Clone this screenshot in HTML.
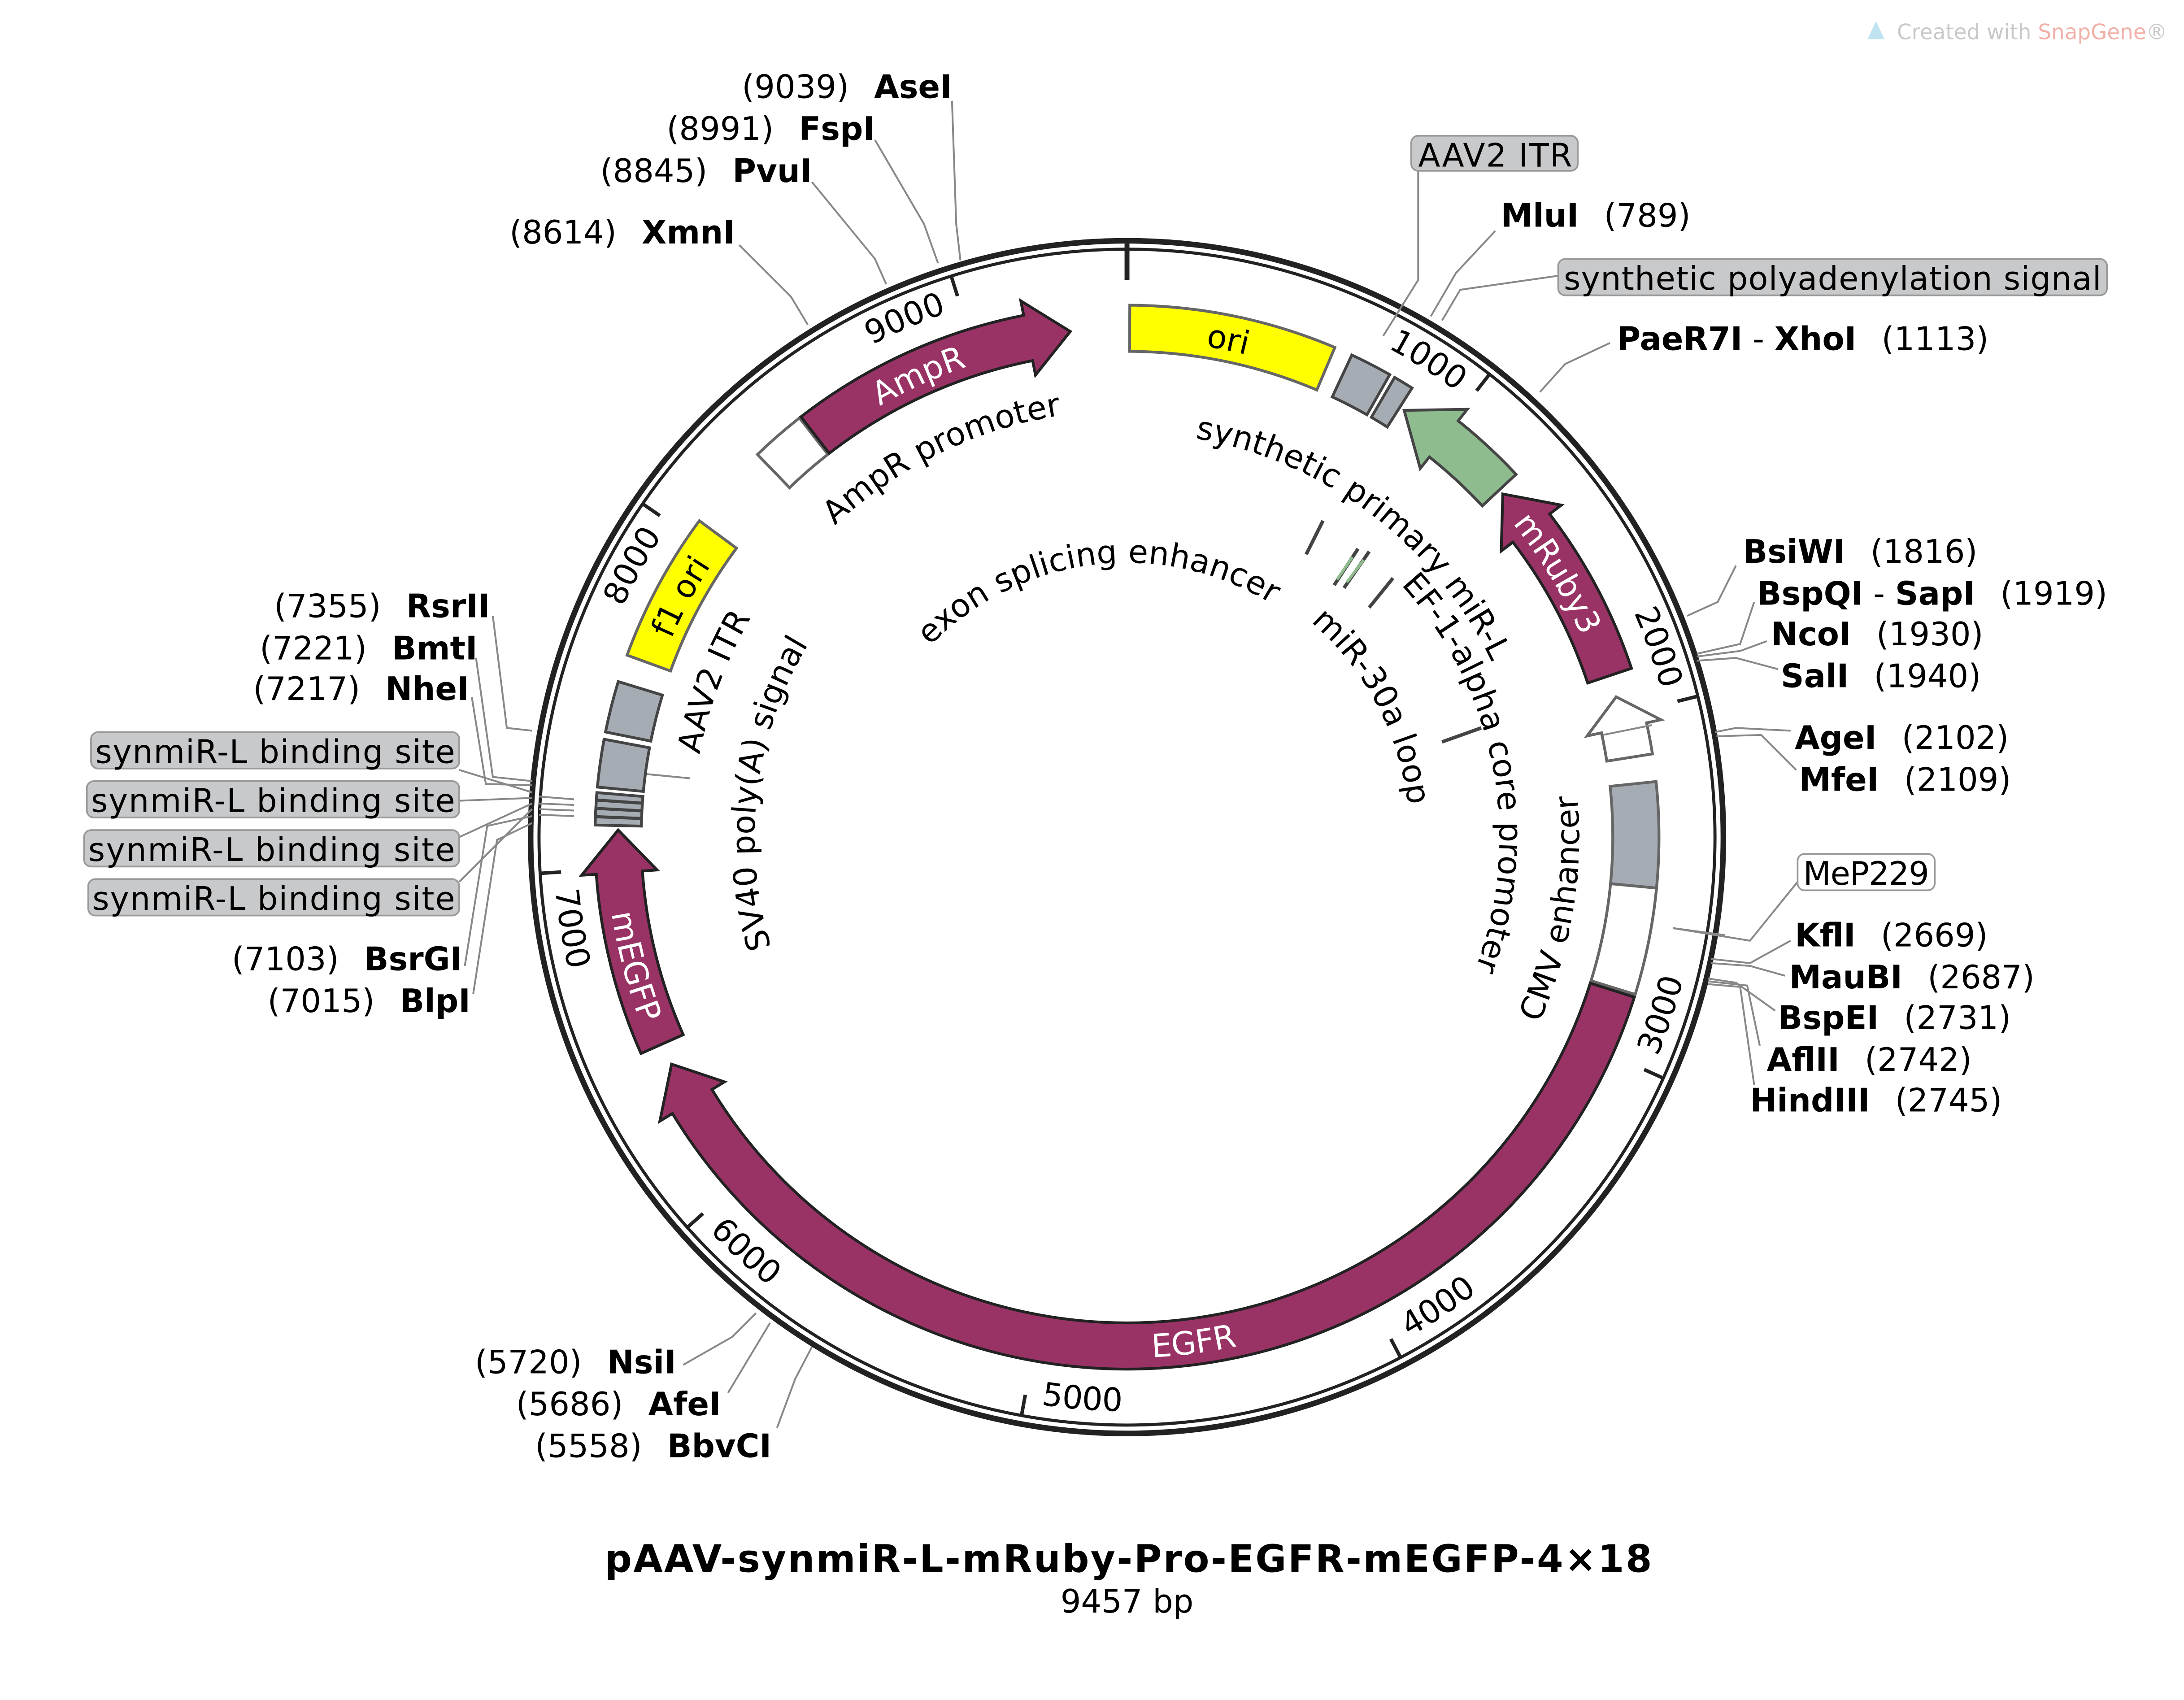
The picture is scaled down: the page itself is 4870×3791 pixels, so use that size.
<!DOCTYPE html>
<html><head><meta charset="utf-8"><style>
html,body{margin:0;padding:0;background:#fff;}
svg{display:block;}
text{font-family:"DejaVu Sans","Liberation Sans",sans-serif;}
</style></head><body>
<svg id="s" xmlns="http://www.w3.org/2000/svg" width="4870" height="3791" viewBox="0 0 1560 1214.4">
<rect width="1560" height="1214.4" fill="#fff"/>
<g id="dyn"></g>
<text x="1355" y="28" font-size="15" fill="#c8c8c8">Created with <tspan fill="#f0b0a8">SnapGene</tspan>®</text>
<path d="M1334,28 L1340,15 L1346,28 Z" fill="#bfe3f0"/>
<g fill="none" stroke="#888" stroke-width="1.3">
<polyline points="680,72 683,160 686,186"/>
<polyline points="625,100 660,160 670,188"/>
<polyline points="580,130 625,185 633,203"/>
<polyline points="528,175 565,212 577,232"/>
<polyline points="1013,122 1013,200 988,240"/>
<polyline points="1068,165 1040,195 1022,226"/>
<polyline points="1113,197 1043,207 1030,229"/>
<polyline points="1150,245 1118,260 1100,280"/>
<polyline points="1240,404 1227,430 1205,440"/>
<polyline points="1253,430 1243,460 1212,467"/>
<polyline points="1262,458 1243,465 1212,469"/>
<polyline points="1270,478 1240,470 1212,472"/>
<polyline points="1279,522 1240,520 1225,523"/>
<polyline points="1283,550 1258,525 1226,526"/>
<polyline points="1284,630 1250,672 1195,663"/>
<polyline points="1279,672 1250,688 1222,685"/>
<polyline points="1275,697 1250,690 1222,688"/>
<polyline points="1268,722 1240,702 1220,699"/>
<polyline points="1257,747 1248,704 1220,701"/>
<polyline points="1253,775 1243,705 1220,703"/>
<polyline points="352,440 362,520 380,522"/>
<polyline points="340,470 352,555 380,558"/>
<polyline points="337,498 347,560 380,561"/>
<polyline points="328,550 380,566"/>
<polyline points="328,572 380,570"/>
<polyline points="328,598 380,574"/>
<polyline points="328,630 380,578"/>
<polyline points="332,690 348,590 380,583"/>
<polyline points="338,710 355,600 380,588"/>
<polyline points="488,975 523,955 540,938"/>
<polyline points="520,995 550,945"/>
<polyline points="555,1020 568,985 580,962"/>
<line x1="385" y1="569" x2="410" y2="571"/>
<line x1="385" y1="574" x2="410" y2="575"/>
<line x1="385" y1="578" x2="410" y2="579"/>
<line x1="385" y1="582" x2="410" y2="583"/>
<line x1="462" y1="553" x2="493" y2="556"/>
<line x1="1195" y1="663" x2="1232" y2="668"/>
<line x1="1145" y1="525" x2="1180" y2="518"/>
</g>
<g stroke="#999" stroke-width="1.2">
<rect x="1008" y="97" width="119" height="25" rx="5" fill="#c8c9cb"/>
<rect x="1113" y="185" width="392" height="26" rx="5" fill="#c8c9cb"/>
<rect x="65" y="523" width="263" height="26" rx="5" fill="#c8c9cb"/>
<rect x="62" y="558" width="266" height="26" rx="5" fill="#c8c9cb"/>
<rect x="60" y="593" width="268" height="26" rx="5" fill="#c8c9cb"/>
<rect x="63" y="628" width="265" height="26" rx="5" fill="#c8c9cb"/>
<rect x="1284" y="610" width="98" height="26" rx="5" fill="#fff"/>
</g>
<g font-size="23" fill="#000">
<text x="1013" y="119" textLength="110">AAV2 ITR</text>
<text x="1117" y="207" textLength="384">synthetic polyadenylation signal</text>
<text x="68" y="545" textLength="257">synmiR-L binding site</text>
<text x="65" y="580" textLength="260">synmiR-L binding site</text>
<text x="63" y="615" textLength="262">synmiR-L binding site</text>
<text x="66" y="650" textLength="259">synmiR-L binding site</text>
<text x="1288" y="632" textLength="90">MeP229</text>
</g>
<g font-size="23" fill="#000">
<text x="680" y="70" text-anchor="end">(9039)<tspan dx="18" font-weight="bold">AseI</tspan></text>
<text x="625" y="100" text-anchor="end">(8991)<tspan dx="18" font-weight="bold">FspI</tspan></text>
<text x="580" y="130" text-anchor="end">(8845)<tspan dx="18" font-weight="bold">PvuI</tspan></text>
<text x="525" y="174" text-anchor="end">(8614)<tspan dx="18" font-weight="bold">XmnI</tspan></text>
<text x="350" y="441" text-anchor="end">(7355)<tspan dx="18" font-weight="bold">RsrII</tspan></text>
<text x="341" y="471" text-anchor="end">(7221)<tspan dx="18" font-weight="bold">BmtI</tspan></text>
<text x="335" y="500" text-anchor="end">(7217)<tspan dx="18" font-weight="bold">NheI</tspan></text>
<text x="330" y="693" text-anchor="end">(7103)<tspan dx="18" font-weight="bold">BsrGI</tspan></text>
<text x="336" y="723" text-anchor="end">(7015)<tspan dx="18" font-weight="bold">BlpI</tspan></text>
<text x="483" y="981" text-anchor="end">(5720)<tspan dx="18" font-weight="bold">NsiI</tspan></text>
<text x="515" y="1011" text-anchor="end">(5686)<tspan dx="18" font-weight="bold">AfeI</tspan></text>
<text x="551" y="1041" text-anchor="end">(5558)<tspan dx="18" font-weight="bold">BbvCI</tspan></text>
<text x="1072" y="162"><tspan font-weight="bold">MluI</tspan><tspan dx="18">(789)</tspan></text>
<text x="1155" y="250"><tspan font-weight="bold">PaeR7I</tspan> - <tspan font-weight="bold">XhoI</tspan><tspan dx="18">(1113)</tspan></text>
<text x="1245" y="402"><tspan font-weight="bold">BsiWI</tspan><tspan dx="18">(1816)</tspan></text>
<text x="1255" y="432"><tspan font-weight="bold">BspQI</tspan> - <tspan font-weight="bold">SapI</tspan><tspan dx="18">(1919)</tspan></text>
<text x="1265" y="461"><tspan font-weight="bold">NcoI</tspan><tspan dx="18">(1930)</tspan></text>
<text x="1272" y="491"><tspan font-weight="bold">SalI</tspan><tspan dx="18">(1940)</tspan></text>
<text x="1282" y="535"><tspan font-weight="bold">AgeI</tspan><tspan dx="18">(2102)</tspan></text>
<text x="1285" y="565"><tspan font-weight="bold">MfeI</tspan><tspan dx="18">(2109)</tspan></text>
<text x="1282" y="676"><tspan font-weight="bold">KflI</tspan><tspan dx="18">(2669)</tspan></text>
<text x="1278" y="706"><tspan font-weight="bold">MauBI</tspan><tspan dx="18">(2687)</tspan></text>
<text x="1270" y="735"><tspan font-weight="bold">BspEI</tspan><tspan dx="18">(2731)</tspan></text>
<text x="1262" y="765"><tspan font-weight="bold">AflII</tspan><tspan dx="18">(2742)</tspan></text>
<text x="1250" y="794"><tspan font-weight="bold">HindIII</tspan><tspan dx="18">(2745)</tspan></text>
</g>
<text x="432" y="1123" font-size="27" font-weight="bold" textLength="748">pAAV-synmiR-L-mRuby-Pro-EGFR-mEGFP-4×18</text>
<text x="805" y="1152" font-size="23" text-anchor="middle">9457 bp</text>
<g stroke="#444" stroke-width="2.5">
<line x1="945" y1="372" x2="933" y2="396"/>
<line x1="970" y1="392" x2="953" y2="418"/>
<line x1="978" y1="394" x2="960" y2="420"/>
<line x1="995" y1="413" x2="978" y2="434"/>
<line x1="1058" y1="520" x2="1030" y2="530"/>
</g>
<g stroke="#8fbc8f" stroke-width="2"><line x1="966" y1="398" x2="955" y2="414"/><line x1="974" y1="400" x2="962" y2="416"/></g>
</svg>
<script>
(function(){
var cx=805,cy=598,id=0,s='';
function P(r,a){a=a*Math.PI/180;return [cx+r*Math.sin(a),cy-r*Math.cos(a)];}
function f(p){return p[0].toFixed(2)+','+p[1].toFixed(2);}
function arc(r,a1,a2,sw){var large=Math.abs(a2-a1)>180?1:0;return 'A'+r+','+r+' 0 '+large+' '+sw+' '+f(P(r,a2));}
var RI=347,RO=380,RM=363.5,HW=27;
function box(a1,a2){return 'M'+f(P(RO,a1))+arc(RO,a1,a2,1)+'L'+f(P(RI,a2))+arc(RI,a2,a1,0)+'Z';}
function cwA(a1,a2,h){var b=a2-h;return 'M'+f(P(RO,a1))+arc(RO,a1,b,1)+'L'+f(P(RM+HW,b))+'L'+f(P(RM,a2))+'L'+f(P(RM-HW,b))+'L'+f(P(RI,b))+arc(RI,b,a1,0)+'Z';}
function ccwA(a1,a2,h){var b=a1+h;return 'M'+f(P(RO,a2))+arc(RO,a2,b,0)+'L'+f(P(RM+HW,b))+'L'+f(P(RM,a1))+'L'+f(P(RM-HW,b))+'L'+f(P(RI,b))+arc(RI,b,a2,1)+'Z';}
function tp(txt,r,c,cw,fs,fill){id++;var d;
 if(cw){d='M'+f(P(r,c-85))+arc(r,c-85,c+85,1);}else{d='M'+f(P(r,c+85))+arc(r,c+85,c-85,0);}
 s+='<path id="tp'+id+'" d="'+d+'" fill="none"/>';
 s+='<text font-size="'+fs+'" fill="'+fill+'"><textPath href="#tp'+id+'" startOffset="50%" text-anchor="middle">'+txt+'</textPath></text>';}
function pth(d,fill,st){s+='<path d="'+d+'" fill="'+fill+'" stroke="'+(st||'#333')+'" stroke-width="2"/>';}
s+='<circle cx="805" cy="598" r="426" fill="none" stroke="#222" stroke-width="4"/>';
s+='<circle cx="805" cy="598" r="420" fill="none" stroke="#222" stroke-width="2.2"/>';
s+='<line x1="805" y1="174" x2="805" y2="200" stroke="#222" stroke-width="3.5"/>';
var M='#993366';
pth(box(0.3,23),'#ffff00','#666');
pth(box(25,29.6),'#a6acb3','#444');
pth(box(30.2,32.4),'#a6acb3','#444');
pth(ccwA(33,47,5.5),'#8fbc8f','#444');
pth(ccwA(47.6,71.5,5),M,'#222');
pth(ccwA(74,81,3.6),'#fff','#666');
pth(box(84,95.5),'#a6acb3','#666');
pth(box(95.5,107.2),'#fff','#666');
pth(cwA(107.5,243.5,4.8),M,'#222');
pth(cwA(246,270.8,4.8),M,'#222');
pth(box(271.3,274.8),'#a6acb3','#444');
[272.2,273.1,274.0].forEach(function(a){s+='<path d="M'+f(P(RI,a))+'L'+f(P(RO,a))+'" stroke="#444" stroke-width="2.2"/>';});
pth(box(275.4,280.6),'#a6acb3','#444');
pth(box(281.4,287),'#a6acb3','#444');
pth(box(290,306.5),'#ffff00','#666');
pth(box(316,322),'#fff','#666');
pth(cwA(322.2,353.6,4.8),M,'#222');
for(var k=1;k<=9;k++){var a=k*1000/9457*360;s+='<path d="M'+f(P(420,a))+'L'+f(P(405,a))+'" stroke="#222" stroke-width="2.5"/>';
 var bottom=(a>90&&a<270);tp(String(k*1000),bottom?410:396,a-5.8,!bottom,23,'#000');}
tp('ori',355,11.5,true,23,'#000');
tp('AmpR',355,335.7,true,23,'#fff');
tp('mRuby3',355,58.5,true,23,'#fff');
tp('EGFR',372,172.5,false,23,'#fff');
tp('mEGFP',372,255.3,false,23,'#fff');
tp('f1 ori',355,298.3,true,23,'#000');
tp('AmpR promoter',305,334,true,23,'#000');
tp('synthetic primary miR-L',289,37,true,23,'#000');
tp('EF-1-alpha core promoter',266,79,true,23,'#000');
tp('CMV enhancer',323,99.5,false,23,'#000');
tp('miR-30a loop',202,62,true,23,'#000');
tp('exon splicing enhancer',196,353,true,23,'#000');
tp('AAV2 ITR',311,290.6,true,23,'#000');
tp('SV40 poly(A) signal',266,277,true,23,'#000');
document.getElementById('dyn').innerHTML=s;
})();
</script>
</body></html>
